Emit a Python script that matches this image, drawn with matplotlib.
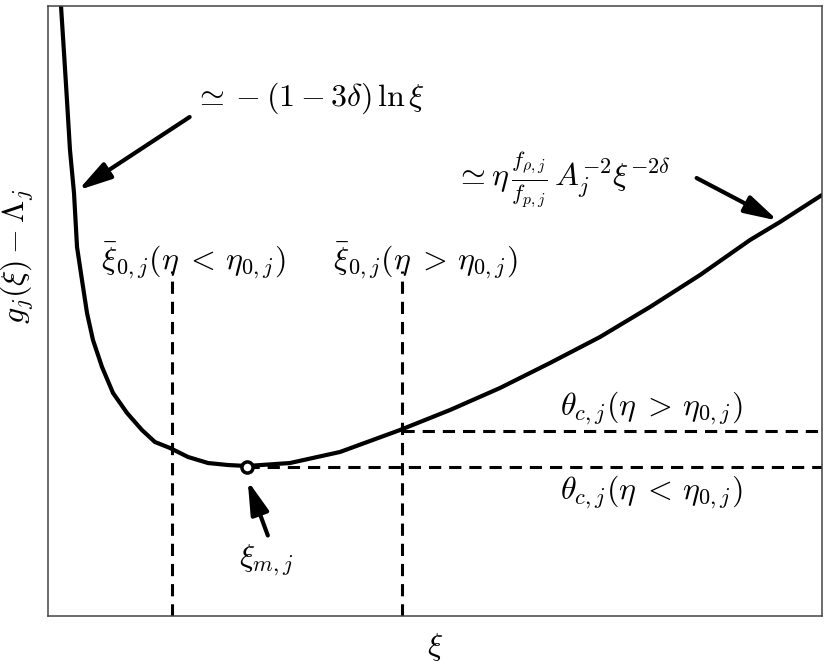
import matplotlib
matplotlib.use("Agg")
import matplotlib.pyplot as plt

plt.rcParams['mathtext.fontset'] = 'cm'
plt.rcParams['font.family'] = ['DejaVu Serif']

# Curve (abstract units, 0..100 on both axes)
xi = [1.68, 2.07, 2.45, 2.84, 3.36, 3.75, 4.39, 5.04, 5.81, 6.98, 8.40, 10.21,
      12.14, 13.82, 15.76, 18.09, 20.67, 23.26, 25.71, 31.27, 37.73, 45.48,
      51.94, 58.40, 64.86, 71.32, 77.78, 84.24, 90.70, 94.57, 100.0]
g = [100.0, 92.30, 84.59, 76.39, 69.34, 60.49, 55.08, 49.67, 45.25, 40.82, 36.56, 33.28,
     30.49, 28.52, 27.54, 26.07, 25.08, 24.75, 24.59, 25.08, 26.89, 30.49,
     33.77, 37.38, 41.48, 45.74, 50.66, 55.90, 61.64, 64.59, 69.02]
xi_m, g_m = 25.71, 24.5             # minimum point
xi0_low, xi0_high = 16.02, 45.74    # vertical dashed positions
theta_low, theta_high = 24.43, 30.33  # horizontal dashed levels
vline_top = 56.5

fig = plt.figure(figsize=(8.30, 6.62), dpi=100)
ax = fig.add_axes([48/830, 46/662, 774/830, 610/662])
ax.set_xlim(0, 100)
ax.set_ylim(0, 100)
ax.set_xticks([])
ax.set_yticks([])
for s in ax.spines.values():
    s.set_linewidth(1.1)
    s.set_color('#444444')

dash = dict(color='black', lw=2.2, dashes=(4.0, 2.6))
ax.plot([xi0_low, xi0_low], [0, vline_top], **dash)
ax.plot([xi0_high, xi0_high], [0, vline_top], **dash)
ax.plot([xi0_high, 100], [theta_high, theta_high], **dash)
ax.plot([xi_m, 100], [theta_low, theta_low], **dash)

ax.plot(xi, g, color='black', lw=3.0, solid_joinstyle='round', solid_capstyle='round')
ax.plot([xi_m], [g_m], 'o', ms=8, mfc='white', mec='black', mew=2.5)

ap = dict(arrowstyle='-|>,head_length=0.8,head_width=0.22', lw=3.0,
          mutation_scale=25, color='black', shrinkA=0, shrinkB=0)
ax.annotate('', xy=(3.9, 69.8), xytext=(18.3, 81.8), arrowprops=ap)
ax.annotate('', xy=(94.3, 64.8), xytext=(83.8, 71.8), arrowprops=ap)
ax.annotate('', xy=(25.8, 22.2), xytext=(28.4, 13.2), arrowprops=ap)

fs = 23
ax.text(18.8, 84.8, r'$\simeq -(1-3\delta)\,\ln\xi$', fontsize=fs, ha='left', va='center')
ax.text(52.6, 71.6, r'$\simeq \eta\,\frac{f_{\rho,j}}{f_{p,j}}\,A_j^{-2}\xi^{-2\delta}$',
        fontsize=fs, ha='left', va='center')
ax.text(18.7, 58.3, r'$\bar{\xi}_{0,j}(\eta\;<\,\eta_{0,j})$', fontsize=fs, ha='center', va='center')
ax.text(48.7, 58.3, r'$\bar{\xi}_{0,j}(\eta\;>\,\eta_{0,j})$', fontsize=fs, ha='center', va='center')
ax.text(77.9, 34.1, r'$\theta_{c,j}(\eta\;>\,\eta_{0,j})$', fontsize=fs, ha='center', va='center')
ax.text(77.9, 20.2, r'$\theta_{c,j}(\eta\;<\,\eta_{0,j})$', fontsize=fs, ha='center', va='center')
ax.text(28.2, 9.2, r'$\xi_{m,j}$', fontsize=fs, ha='center', va='center')

ax.set_xlabel(r'$\xi$', fontsize=fs)
ax.xaxis.set_label_coords(0.5, -0.024)
ax.set_ylabel(r'$g_j(\xi) - \Lambda_j$', fontsize=fs)
ax.yaxis.set_label_coords(-0.016, 0.59)

fig.savefig('out.png', dpi=100)
